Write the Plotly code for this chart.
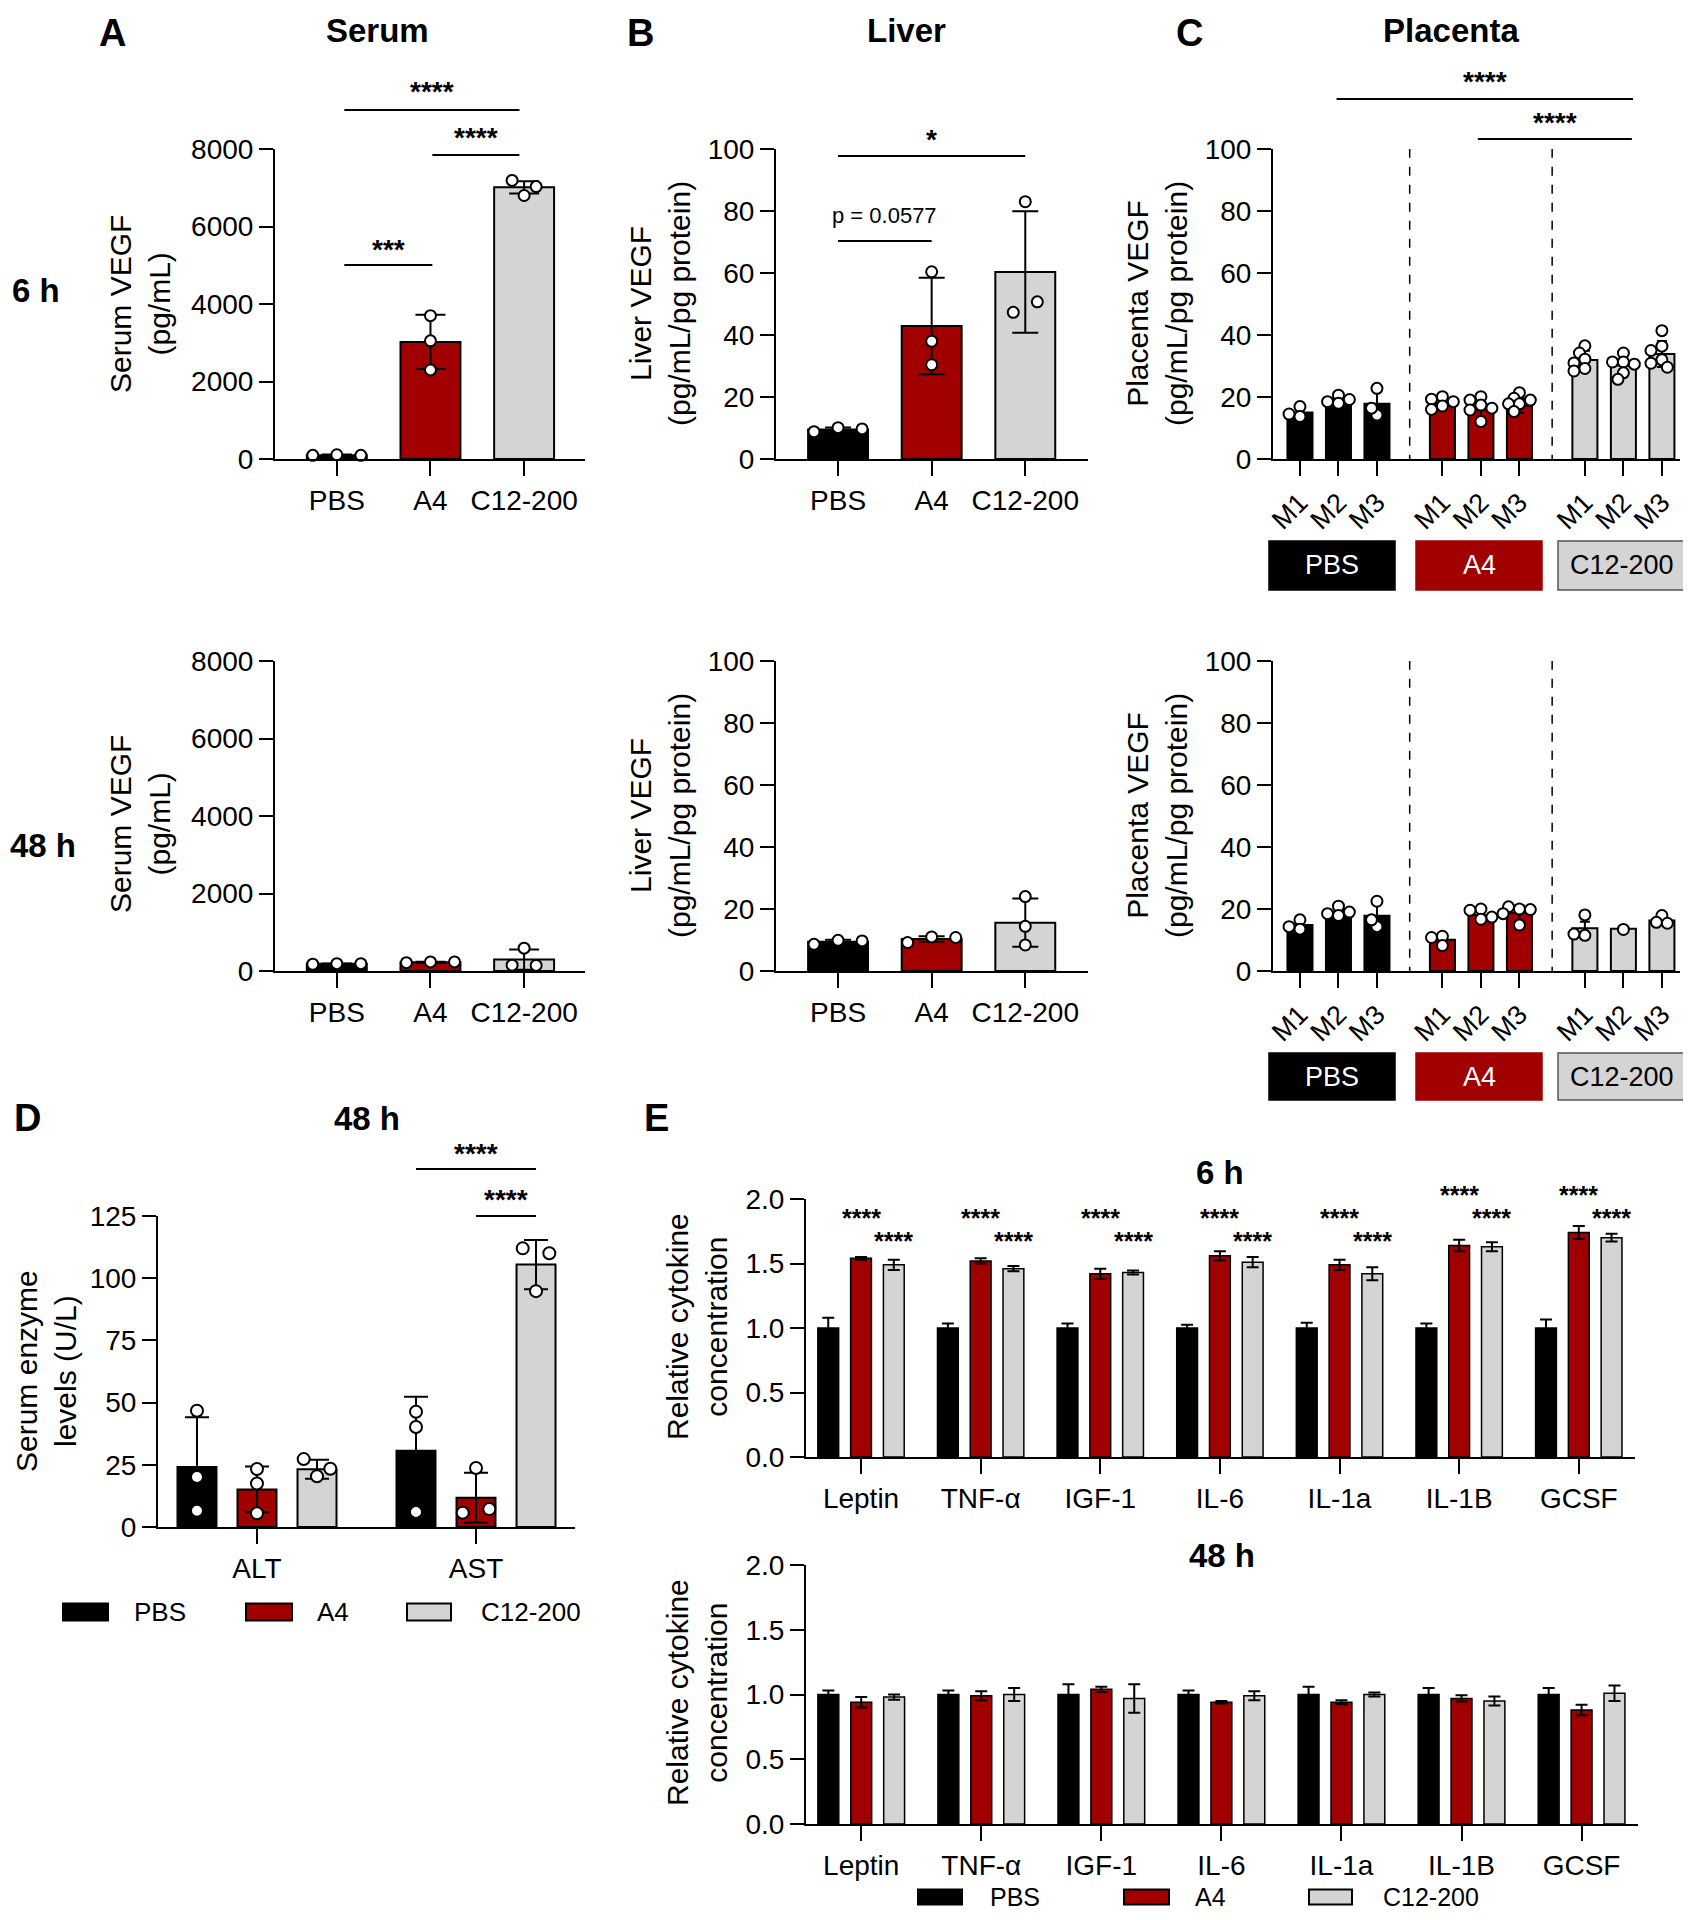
import plotly.graph_objects as go

# ---------------- data ----------------
groups = ['PBS', 'A4', 'C12-200']

serum_6h_mean = [100, 3020, 7010]
serum_6h_sd = [15, 700, 160]
serum_6h_points = [[95, 110, 95], [3700, 3050, 2300], [7190, 7030, 6800]]

serum_48h_mean = [185, 225, 295]
serum_48h_sd = [10, 12, 260]
serum_48h_points = [[175, 190, 190], [215, 235, 235], [590, 150, 145]]

liver_6h_mean = [9.5, 42.9, 60.3]
liver_6h_sd = [0.7, 15.6, 19.6]
liver_6h_points = [[8.8, 10.1, 9.7], [60.4, 38.0, 30.4], [83.0, 47.3, 50.7]]

liver_48h_mean = [9.4, 10.3, 15.6]
liver_48h_sd = [0.7, 0.9, 7.8]
liver_48h_points = [[8.6, 9.9, 9.7], [9.2, 11.0, 10.8], [24.0, 14.4, 8.4]]

mice = ['M1', 'M2', 'M3']
placenta_6h_mean = [[15.0, 19.1, 17.8], [18.2, 16.0, 17.2], [31.9, 30.2, 33.9]]
placenta_6h_sd = [[1.7, 1.1, 4.5], [1.6, 2.9, 2.3], [3.0, 3.0, 4.2]]
placenta_6h_points = [
    [[16.9, 13.7, 14.5], [20.6, 18.0, 18.5, 19.2], [22.8, 14.2, 16.4]],
    [[20.1, 19.3, 17.1, 16.0, 18.5], [20.1, 19.0, 17.4, 15.8, 12.1, 16.4], [21.4, 19.6, 17.8, 17.8, 15.3, 19.0]],
    [[36.5, 34.2, 32.2, 31.0, 29.2, 28.4], [34.2, 31.3, 31.3, 30.6, 27.8, 25.7], [41.4, 36.4, 35.0, 32.0, 30.9, 29.6]],
]
placenta_48h_mean = [[14.8, 19.1, 17.8], [10.1, 18.1, 18.8], [13.8, 13.6, 16.3]]
placenta_48h_sd = [[1.6, 1.2, 4.3], [1.6, 1.6, 2.4], [2.1, 0.0, 1.4]]
placenta_48h_points = [
    [[16.5, 13.5, 14.3], [20.9, 17.9, 18.5, 19.0], [22.5, 14.3, 16.5]],
    [[11.2, 8.2, 10.8], [20.0, 19.6, 16.7, 17.4], [20.0, 20.7, 19.8, 18.5, 14.8]],
    [[18.1, 11.5, 11.9], [13.4], [17.9, 15.7, 15.4]],
]

enzymes = ['ALT', 'AST']
enzyme_mean = {'PBS': [24.1, 30.6], 'A4': [15.1, 11.8], 'C12-200': [23.2, 105.5]}
enzyme_sd = {'PBS': [20.0, 21.8], 'A4': [9.2, 10.0], 'C12-200': [3.8, 9.9]}
enzyme_points = {
    'PBS': [[46.7, 20.1, 6.5], [46.3, 40.2, 6.0]],
    'A4': [[23.3, 17.5, 5.5], [23.7, 5.7, 7.2]],
    'C12-200': [[27.3, 23.4, 20.4], [112.0, 110.0, 94.8]],
}

cytokines = ['Leptin', 'TNF-α', 'IGF-1', 'IL-6', 'IL-1a', 'IL-1B', 'GCSF']
cyto_6h_mean = {'PBS': [1.0, 1.0, 1.0, 1.0, 1.0, 1.0, 1.0],
                'A4': [1.54, 1.52, 1.42, 1.56, 1.49, 1.64, 1.74],
                'C12-200': [1.49, 1.46, 1.43, 1.51, 1.42, 1.63, 1.70]}
cyto_6h_err = {'PBS': [0.08, 0.035, 0.035, 0.025, 0.04, 0.035, 0.065],
               'A4': [0.01, 0.02, 0.04, 0.035, 0.04, 0.045, 0.05],
               'C12-200': [0.04, 0.02, 0.015, 0.04, 0.05, 0.035, 0.03]}
cyto_48h_mean = {'PBS': [1.0, 1.0, 1.0, 1.0, 1.0, 1.0, 1.0],
                 'A4': [0.94, 0.99, 1.04, 0.94, 0.94, 0.97, 0.88],
                 'C12-200': [0.98, 1.00, 0.97, 0.99, 1.00, 0.95, 1.01]}
cyto_48h_err = {'PBS': [0.03, 0.03, 0.08, 0.03, 0.06, 0.05, 0.05],
                'A4': [0.04, 0.035, 0.02, 0.01, 0.015, 0.025, 0.04],
                'C12-200': [0.02, 0.05, 0.11, 0.035, 0.015, 0.035, 0.06]}
cyto_6h_sig = {'A4': ['****'] * 7, 'C12-200': ['****'] * 7}

serum_ticks = [0, 2000, 4000, 6000, 8000]
pct_ticks = [0, 20, 40, 60, 80, 100]
enzyme_ticks = [0, 25, 50, 75, 100, 125]
cyto_ticks = [0.0, 0.5, 1.0, 1.5, 2.0]

# ---------------- style / layout helpers ----------------
W, H, OFF = 1675, 1904, 8
FONT = 'Liberation Sans, Arial, Helvetica, sans-serif'
COL = {'PBS': '#000000', 'A4': '#A00000', 'C12-200': '#D4D4D4'}
TICKF = 28
TITLEF = 30


def PX(p):
    return (p - OFF) / W


def PY(p):
    return 1 - (p - OFF) / H


fig = go.Figure()
layout = {}
annotations = []
shapes = []


def make_axes(i, box, xrange, yrange, xtv, xtt, ytv, ytt, xangle=0, xfont=TICKF):
    left, right, top, bottom = box
    s = '' if i == 1 else str(i)
    common = dict(showline=True, linecolor='black', linewidth=2, ticks='outside', tickwidth=2,
                  tickcolor='black', showgrid=False, zeroline=False, fixedrange=True, automargin=False)
    layout['xaxis' + s] = dict(domain=[PX(left), PX(right)], range=xrange, anchor='y' + s,
                               tickmode='array', tickvals=xtv, ticktext=xtt, ticklen=15,
                               tickangle=xangle,
                               tickfont=dict(size=xfont, color='black', family=FONT), **common)
    layout['yaxis' + s] = dict(domain=[PY(bottom), PY(top)], range=yrange, anchor='x' + s,
                               tickmode='array', tickvals=ytv, ticktext=ytt, ticklen=14,
                               tickfont=dict(size=TICKF, color='black', family=FONT), **common)
    return 'x' + s, 'y' + s


def swarm(values, center, ypx, xpx, diam, step, sep=0.95):
    """beeswarm: nearest free horizontal slot"""
    placed, xs = [], []
    order = [0]
    for j in range(1, 15):
        order += [-j, j]
    for v in values:
        y = v * ypx
        dx = 0
        for k in order:
            dx = k * diam * step
            if all((dx - a) ** 2 + (y - b) ** 2 >= (diam * sep) ** 2 for a, b in placed):
                break
        placed.append((dx, y))
        xs.append(center + dx / xpx)
    return xs


def rows_scatter(values, center, ypx, xpx, diam, spacing=1.85):
    """Prism-like scatter: points closer than a diameter share a row, spread symmetrically"""
    idx = sorted(range(len(values)), key=lambda j: -values[j])
    rows, cur = [], []
    for j in idx:
        if cur and (values[cur[0]] - values[j]) * ypx >= diam:
            rows.append(cur)
            cur = []
        cur.append(j)
    if cur:
        rows.append(cur)
    xs = [center] * len(values)
    for r in rows:
        r = sorted(r)
        n = len(r)
        for m, j in enumerate(r):
            xs[j] = center + (m - (n - 1) / 2.0) * spacing * diam / xpx
    return xs


def add_points(xr, yr, xs, ys, size):
    fig.add_trace(go.Scatter(x=xs, y=ys, mode='markers', xaxis=xr, yaxis=yr, showlegend=False,
                             cliponaxis=False, hoverinfo='skip',
                             marker=dict(symbol='circle', size=size, color='white',
                                         line=dict(color='black', width=2))))


def text(x, y, t, size=TICKF, bold=False, xref='paper', yref='paper', color='black', angle=0, yanchor='middle'):
    annotations.append(dict(x=x, y=y, xref=xref, yref=yref, text=('<b>%s</b>' % t) if bold else t,
                            showarrow=False, xanchor='center', yanchor=yanchor, textangle=angle,
                            font=dict(size=size, color=color, family=FONT)))


def sig(xr, x0, x1, yline, label, ytext, size=28, bold=True, shift=3):
    shapes.append(dict(type='line', xref=xr, yref='paper', x0=x0, x1=x1, y0=PY(yline), y1=PY(yline),
                       line=dict(color='black', width=2)))
    text((x0 + x1) / 2, PY(ytext + (shift if bold else 0)), label, size=size, bold=bold, xref=xr)


def simple_panel(i, box, xrange, yrange, ytv, ytt, means, sds, points, cap=15, msize=11):
    xr, yr = make_axes(i, box, xrange, yrange, list(range(len(groups))), groups, ytv, ytt)
    xs = list(range(len(groups)))
    fig.add_trace(go.Bar(x=xs, y=means, width=0.64, xaxis=xr, yaxis=yr, showlegend=False,
                         marker=dict(color=[COL[g] for g in groups], line=dict(color='black', width=2)),
                         error_y=dict(type='data', array=sds, visible=True, color='black',
                                      thickness=2, width=cap)))
    ypx = (box[3] - box[2]) / (yrange[1] - yrange[0])
    xpx = (box[1] - box[0]) / (xrange[1] - xrange[0])
    for gi, pts in enumerate(points):
        add_points(xr, yr, rows_scatter(pts, xs[gi], ypx, xpx, msize + 2), pts, msize)
    return xr, yr


# ---- Panel A ----
xrA = [-0.66, 2.65]
a6 = simple_panel(1, (275, 585, 149, 459), xrA, [0, 8000], serum_ticks, [str(t) for t in serum_ticks],
                  serum_6h_mean, serum_6h_sd, serum_6h_points)
a48 = simple_panel(2, (275, 585, 661, 971), xrA, [0, 8000], serum_ticks, [str(t) for t in serum_ticks],
                   serum_48h_mean, serum_48h_sd, serum_48h_points)
sig(a6[0], 0.08, 1.95, 110, '****', 89)
sig(a6[0], 1.02, 1.95, 155, '****', 135)
sig(a6[0], 0.08, 1.02, 265, '***', 246)

# ---- Panel B ----
xrB = [-0.663, 2.67]
b6 = simple_panel(3, (776, 1088, 149, 459), xrB, [0, 100], pct_ticks, [str(t) for t in pct_ticks],
                  liver_6h_mean, liver_6h_sd, liver_6h_points, cap=13)
b48 = simple_panel(4, (776, 1088, 661, 971), xrB, [0, 100], pct_ticks, [str(t) for t in pct_ticks],
                   liver_48h_mean, liver_48h_sd, liver_48h_points, cap=13)
sig(b6[0], 0.0, 2.0, 156, '*', 137)
sig(b6[0], 0.0, 1.0, 241, 'p = 0.0577', 215, size=22, bold=False)

# ---- Panel C ----
GAP = 3.7
cpos = [gi * GAP + mi for gi in range(3) for mi in range(3)]
xrC = [-0.70, 9.87]


def placenta_panel(i, box, means, sds, points, boxy):
    xr, yr = make_axes(i, box, xrC, [0, 100], cpos, mice * 3, pct_ticks, [str(t) for t in pct_ticks],
                       xangle=-45, xfont=27)
    flat_m = [v for g in means for v in g]
    flat_s = [v for g in sds for v in g]
    colors = [COL[g] for g in groups for _ in mice]
    fig.add_trace(go.Bar(x=cpos, y=flat_m, width=0.65, xaxis=xr, yaxis=yr, showlegend=False,
                         marker=dict(color=colors, line=dict(color='black', width=2)),
                         error_y=dict(type='data', array=flat_s, visible=True, color='black',
                                      thickness=2, width=5)))
    ypx = (box[3] - box[2]) / 100.0
    xpx = (box[1] - box[0]) / (xrC[1] - xrC[0])
    k = 0
    for gi in range(3):
        for mi in range(3):
            pts = points[gi][mi]
            add_points(xr, yr, swarm(pts, cpos[k], ypx, xpx, 13, 0.42, sep=0.6), pts, 11)
            k += 1
    for gi in range(2):
        xm = (cpos[gi * 3 + 2] + cpos[gi * 3 + 3]) / 2
        shapes.append(dict(type='line', xref=xr, yref=yr, x0=xm, x1=xm, y0=-1.5, y1=100,
                           line=dict(color='black', width=1.5, dash='dash')))
    bx = [(1269, 1395), (1416, 1542), (1558, 1686)]
    for gi, g in enumerate(groups):
        shapes.append(dict(type='rect', xref='paper', yref='paper', x0=PX(bx[gi][0]), x1=PX(bx[gi][1]),
                           y0=PY(boxy[1]), y1=PY(boxy[0]), fillcolor=COL[g],
                           line=dict(color='#555555' if g == 'C12-200' else COL[g], width=1.5)))
        text(PX((bx[gi][0] + bx[gi][1]) / 2), PY((boxy[0] + boxy[1]) / 2), g, size=27,
             color='black' if g == 'C12-200' else 'white')
    return xr, yr


c6 = placenta_panel(5, (1273, 1680, 149, 459), placenta_6h_mean, placenta_6h_sd, placenta_6h_points, (541, 590))
c48 = placenta_panel(6, (1273, 1680, 661, 971), placenta_48h_mean, placenta_48h_sd, placenta_48h_points, (1053, 1100))
sig(c6[0], 0.95, 8.65, 99, '****', 79)
sig(c6[0], 4.62, 8.62, 139, '****', 119)

# ---- Panel D ----
goff = {'PBS': -0.274, 'A4': 0.0, 'C12-200': 0.274}
boxD = (158, 575, 1216, 1527)
xrD = [-0.452, 1.452]
dx_, dy_ = make_axes(7, boxD, xrD, [0, 125], [0, 1], enzymes, enzyme_ticks, [str(t) for t in enzyme_ticks])
ypxD = (boxD[3] - boxD[2]) / 125.0
xpxD = (boxD[1] - boxD[0]) / (xrD[1] - xrD[0])
for g in groups:
    xs = [ei + goff[g] for ei in range(len(enzymes))]
    fig.add_trace(go.Bar(x=xs, y=enzyme_mean[g], width=0.178, xaxis=dx_, yaxis=dy_, showlegend=False,
                         marker=dict(color=COL[g], line=dict(color='black', width=2)),
                         error_y=dict(type='data', array=enzyme_sd[g], visible=True, color='black',
                                      thickness=2, width=12)))
for g in groups:
    for ei in range(len(enzymes)):
        pts = enzyme_points[g][ei]
        add_points(dx_, dy_, rows_scatter(pts, ei + goff[g], ypxD, xpxD, 14, spacing=1.9), pts, 12)
sig(dx_, 1 - 0.274, 1 + 0.274, 1169, '****', 1150)
sig(dx_, 1.0, 1 + 0.274, 1216, '****', 1196)

# ---- Panel E ----
xrE = [-0.46, 6.47]


def cyto_panel(i, box, means, errs):
    xr, yr = make_axes(i, box, xrE, [0, 2], list(range(len(cytokines))), cytokines,
                       cyto_ticks, ['%.1f' % t for t in cyto_ticks])
    for g in groups:
        xs = [ci + goff[g] for ci in range(len(cytokines))]
        fig.add_trace(go.Bar(x=xs, y=means[g], width=0.174, xaxis=xr, yaxis=yr, showlegend=False,
                             marker=dict(color=COL[g], line=dict(color='black', width=1.5)),
                             error_y=dict(type='data', array=errs[g], visible=True, color='black',
                                          thickness=2, width=6)))
    return xr, yr


boxE6 = (806, 1635, 1199, 1457)
e6 = cyto_panel(8, boxE6, cyto_6h_mean, cyto_6h_err)
e48 = cyto_panel(9, (806, 1638, 1565, 1824), cyto_48h_mean, cyto_48h_err)
ypxE = (boxE6[3] - boxE6[2]) / 2.0
for ci in range(len(cytokines)):
    top = max(cyto_6h_mean[g][ci] + cyto_6h_err[g][ci] for g in ['A4', 'C12-200'])
    lvl = 1.69 + (0.18 if top > 1.62 else 0.0)
    for g, l in [('C12-200', lvl), ('A4', lvl + 0.18)]:
        ypix = boxE6[3] - l * ypxE + 2
        text(ci + goff[g], PY(ypix), cyto_6h_sig[g][ci], size=25, bold=True, xref=e6[0])

# ---- titles, labels ----
for t, x in [('A', 113), ('B', 640), ('C', 1189)]:
    text(PX(x), PY(10), t, size=38, bold=True, yanchor='top')
for t, x, y in [('D', 27, 1118), ('E', 656, 1118)]:
    text(PX(x), PY(y), t, size=38, bold=True)
for t, x in [('Serum', 377), ('Liver', 906), ('Placenta', 1451)]:
    text(PX(x), PY(10), t, size=33, bold=True, yanchor='top')
for t, x, y in [('6 h', 36, 290), ('48 h', 43, 845), ('48 h', 367, 1118), ('6 h', 1220, 1172),
                ('48 h', 1222, 1555)]:
    text(PX(x), PY(y), t, size=33, bold=True)

for t, x, y in [('Serum VEGF<br>(pg/mL)', 140, 304), ('Serum VEGF<br>(pg/mL)', 140, 824),
                ('Liver VEGF<br>(pg/mL/pg protein)', 660, 304), ('Liver VEGF<br>(pg/mL/pg protein)', 660, 816),
                ('Placenta VEGF<br>(pg/mL/pg protein)', 1157, 304), ('Placenta VEGF<br>(pg/mL/pg protein)', 1157, 816),
                ('Serum enzyme<br>levels (U/L)', 46, 1371),
                ('Relative cytokine<br>concentration', 697, 1327), ('Relative cytokine<br>concentration', 697, 1693)]:
    text(PX(x), PY(y), t, size=TITLEF, angle=-90)

# ---- legends (D and E) ----
for (boxes, texts, yc, hh, fs) in [([(63, 108), (246, 292), (407, 451)], [160, 333, 531], 1612, 17, 26),
                                   ([(918, 962), (1124, 1169), (1309, 1352)], [1015, 1210, 1431], 1897, 15, 25)]:
    for gi, g in enumerate(groups):
        shapes.append(dict(type='rect', xref='paper', yref='paper', x0=PX(boxes[gi][0]), x1=PX(boxes[gi][1]),
                           y0=PY(yc + hh / 2), y1=PY(yc - hh / 2), fillcolor=COL[g],
                           line=dict(color='black', width=2)))
        text(PX(texts[gi]), PY(yc), g, size=fs)

fig.update_layout(width=W, height=H, margin=dict(l=0, r=0, t=0, b=0, pad=0, autoexpand=False),
                  paper_bgcolor='white', plot_bgcolor='white', font=dict(family=FONT, color='black'),
                  barmode='overlay', annotations=annotations, shapes=shapes, showlegend=False, **layout)
fig.write_html("out.html")
